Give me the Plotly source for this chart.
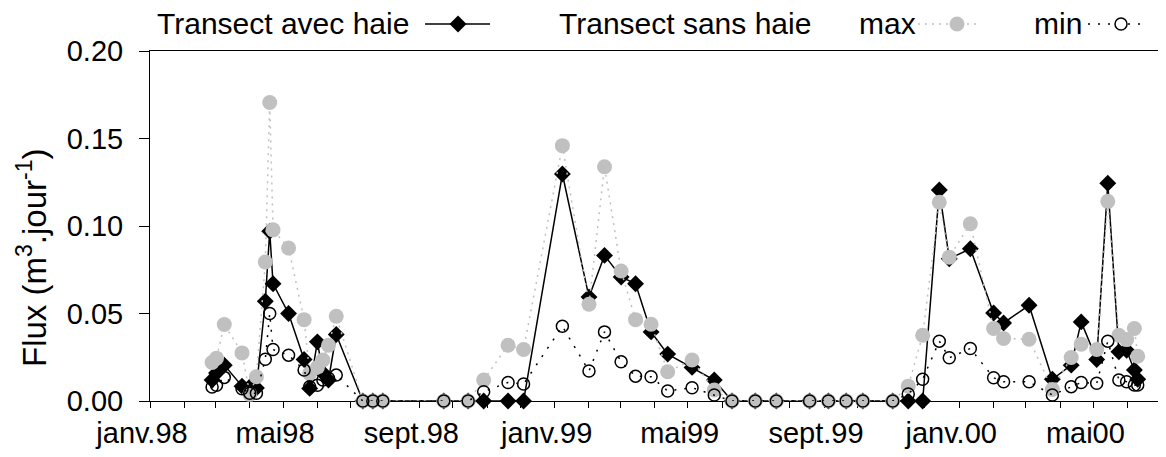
import plotly.graph_objects as go

# ---------------- data ----------------
dates = [
    "1998-02-26", "1998-03-02", "1998-03-09", "1998-03-25", "1998-04-01", "1998-04-07",
    "1998-04-15", "1998-04-19", "1998-04-22", "1998-05-06", "1998-05-20", "1998-05-25",
    "1998-06-01", "1998-06-06", "1998-06-11", "1998-06-18",
    "1998-07-12", "1998-07-21", "1998-07-30", "1998-09-23", "1998-10-15", "1998-10-29",
    "1998-11-20", "1998-12-04",
    "1999-01-08", "1999-02-01", "1999-02-15", "1999-03-02", "1999-03-15", "1999-03-29",
    "1999-04-13", "1999-05-05", "1999-05-25",
    "1999-06-10", "1999-07-01", "1999-07-20", "1999-08-19", "1999-09-05", "1999-09-21",
    "1999-10-06", "1999-11-02", "1999-11-16", "1999-11-29",
    "1999-12-14", "1999-12-23", "2000-01-11", "2000-02-01", "2000-02-10", "2000-03-04",
    "2000-03-25", "2000-04-11", "2000-04-20", "2000-05-04", "2000-05-14", "2000-05-24",
    "2000-05-31", "2000-06-07", "2000-06-10",
]

avec_haie = [
    0.012, 0.016, 0.0205, 0.0085, 0.008, 0.0074, 0.057, 0.097, 0.067, 0.050, 0.0237, 0.0072,
    0.0338, 0.016, 0.012, 0.038,
    0, 0, 0, 0, 0, 0, 0, 0,
    0.1297, 0.0594, 0.0832, 0.0709, 0.067, 0.0395, 0.0268, 0.0192, 0.012,
    0, 0, 0, 0, 0, 0, 0, 0, 0, 0,
    0.1206, 0.0813, 0.087, 0.0503, 0.0446, 0.0547, 0.0124, 0.0205, 0.0452, 0.0237, 0.1244,
    0.0281, 0.029, 0.0177, 0.0124,
]

sans_max = [
    0.022, 0.0245, 0.0437, 0.0275, 0.0038, 0.0139, 0.0794, 0.1706, 0.0978, 0.0874, 0.0465, 0.0158,
    0.0192, 0.0234, 0.0319, 0.0484,
    0, 0, 0, 0, 0, 0.012, 0.0319, 0.0294,
    0.1459, 0.0553, 0.1339, 0.0743, 0.0465, 0.0439, 0.0167, 0.0234, 0.0063,
    0, 0, 0, 0, 0, 0, 0, 0, 0.0085, 0.0376,
    0.1136, 0.0822, 0.1013, 0.0414, 0.0357, 0.0353, 0.0066, 0.0249, 0.0325, 0.0294, 0.1141,
    0.0376, 0.0351, 0.0414, 0.0256,
]

sans_min = [
    0.008, 0.009, 0.0135, 0.007, 0.0044, 0.0044, 0.0239, 0.050, 0.0294, 0.0262, 0.0177, 0.0082,
    0.009, 0.012, 0.013, 0.0148,
    0, 0, 0, 0, 0, 0.0053, 0.0106, 0.0097,
    0.0427, 0.0171, 0.0395, 0.0224, 0.0142, 0.0139, 0.0057, 0.0076, 0.0034,
    0, 0, 0, 0, 0, 0, 0, 0, 0.004, 0.0124,
    0.0342, 0.0247, 0.030, 0.0133, 0.011, 0.011, 0.0034, 0.0082, 0.0106, 0.0101, 0.0342,
    0.012, 0.011, 0.0091, 0.0091,
]

month_ticks = [f"{y}-{m:02d}-01" for y in (1998, 1999, 2000) for m in range(1, 13)][:31]
major_ticks = ["1998-01-01", "1998-05-01", "1998-09-01", "1999-01-01",
               "1999-05-01", "1999-09-01", "2000-01-01", "2000-05-01"]
major_labels = ["janv.98", "mai98", "sept.98", "janv.99", "mai99", "sept.99", "janv.00", "mai00"]

y_ticks = [0.0, 0.05, 0.10, 0.15, 0.20]

legend_labels = ["Transect avec haie", "Transect sans haie", "max", "min"]

# ---------------- figure ----------------
FONT = "Arial, Liberation Sans, sans-serif"
GRAY = "#c0c0c0"

fig = go.Figure()
fig.add_trace(go.Scatter(
    x=dates, y=avec_haie, mode="lines+markers", name=legend_labels[0],
    line=dict(color="black", width=1.5),
    marker=dict(symbol="diamond", size=13, color="black"),
    cliponaxis=False, showlegend=False))
fig.add_trace(go.Scatter(
    x=dates, y=sans_max, mode="lines+markers", name=legend_labels[2],
    line=dict(color=GRAY, width=1.5, dash="2px,5px"),
    marker=dict(symbol="circle", size=15, color=GRAY),
    cliponaxis=False, showlegend=False))
fig.add_trace(go.Scatter(
    x=dates, y=sans_min, mode="lines+markers", name=legend_labels[3],
    line=dict(color="black", width=1.5, dash="2px,8px"),
    marker=dict(symbol="circle", size=12, color="rgba(0,0,0,0)",
                line=dict(color="black", width=1.5)),
    cliponaxis=False, showlegend=False))

# The page body has an 8px default margin: the figure is sized so that the
# plot area lands at x 150..1161, y 51..401 of the 1166x457 window.
OFF = 8
W, H = 1166 - OFF, 457 - OFF
L, R, T, B = 142, 5, 43, 56
pw, ph = W - L - R, H - T - B


def px(xwin):
    return (xwin - OFF - L) / pw


def py(ywin):
    return (OFF + T + ph - ywin) / ph


LEG_Y = 24
annotations = []
shapes = []
for text, xl in zip(legend_labels, [155, 557, 857, 1032]):
    annotations.append(dict(x=px(xl), y=py(LEG_Y), xref="paper", yref="paper",
                            text=text, showarrow=False, xanchor="left", yanchor="middle",
                            font=dict(family=FONT, size=30, color="black")))
# legend symbols
shapes.append(dict(type="line", xref="paper", yref="paper", x0=px(425), x1=px(490),
                   y0=py(LEG_Y), y1=py(LEG_Y), line=dict(color="black", width=1.5)))
shapes.append(dict(type="path", xref="paper", yref="paper", xsizemode="pixel", ysizemode="pixel",
                   xanchor=px(458), yanchor=py(LEG_Y), path="M -8.5 0 L 0 8.5 L 8.5 0 L 0 -8.5 Z",
                   fillcolor="black", line=dict(color="black", width=0)))
shapes.append(dict(type="line", xref="paper", yref="paper", x0=px(918), x1=px(980),
                   y0=py(LEG_Y), y1=py(LEG_Y), line=dict(color=GRAY, width=1.5, dash="2px,5px")))
shapes.append(dict(type="circle", xref="paper", yref="paper", xsizemode="pixel", ysizemode="pixel",
                   xanchor=px(957), yanchor=py(LEG_Y), x0=-7.5, x1=7.5, y0=-7.5, y1=7.5,
                   fillcolor=GRAY, line=dict(color=GRAY, width=0)))
shapes.append(dict(type="line", xref="paper", yref="paper", x0=px(1088), x1=px(1146),
                   y0=py(LEG_Y), y1=py(LEG_Y), line=dict(color="black", width=1.5, dash="2px,8px")))
shapes.append(dict(type="circle", xref="paper", yref="paper", xsizemode="pixel", ysizemode="pixel",
                   xanchor=px(1121), yanchor=py(LEG_Y), x0=-6, x1=6, y0=-6, y1=6,
                   fillcolor="white", line=dict(color="black", width=1.5)))

# y-axis title
annotations.append(dict(x=px(32), y=py(258), xref="paper", yref="paper",
                        text="Flux (m<sup>3</sup>.jour<sup>-1</sup>)", textangle=-90,
                        showarrow=False, xanchor="center", yanchor="middle",
                        font=dict(family=FONT, size=33, color="black")))

fig.update_layout(
    template="none",
    width=W, height=H,
    margin=dict(l=L, r=R, t=T, b=B, pad=0, autoexpand=False),
    paper_bgcolor="white", plot_bgcolor="white",
    showlegend=False,
    font=dict(family=FONT, size=29, color="black"),
    annotations=annotations, shapes=shapes,
    xaxis=dict(type="date", range=["1998-01-01", "2000-07-01"], automargin=False,
               tickmode="array", tickvals=major_ticks, ticktext=major_labels,
               ticks="outside", ticklen=6, tickwidth=1, tickcolor="black",
               ticklabelshift=-8,
               minor=dict(tickmode="array", tickvals=month_ticks, ticks="outside",
                          ticklen=6, tickwidth=1, tickcolor="black", showgrid=False),
               showline=True, linecolor="black", linewidth=1, mirror=True,
               showgrid=False, zeroline=False, layer="below traces",
               tickfont=dict(family=FONT, size=29, color="black")),
    yaxis=dict(range=[0, 0.2], automargin=False, tickmode="array", tickvals=y_ticks,
               ticktext=[f"{v:.2f}" for v in y_ticks],
               ticks="outside", ticklen=10, tickwidth=1, tickcolor="black",
               ticklabelstandoff=10,
               showline=True, linecolor="black", linewidth=1, mirror=True,
               showgrid=False, zeroline=False, layer="below traces",
               tickfont=dict(family=FONT, size=29, color="black")),
)

fig.write_html("out.html")
